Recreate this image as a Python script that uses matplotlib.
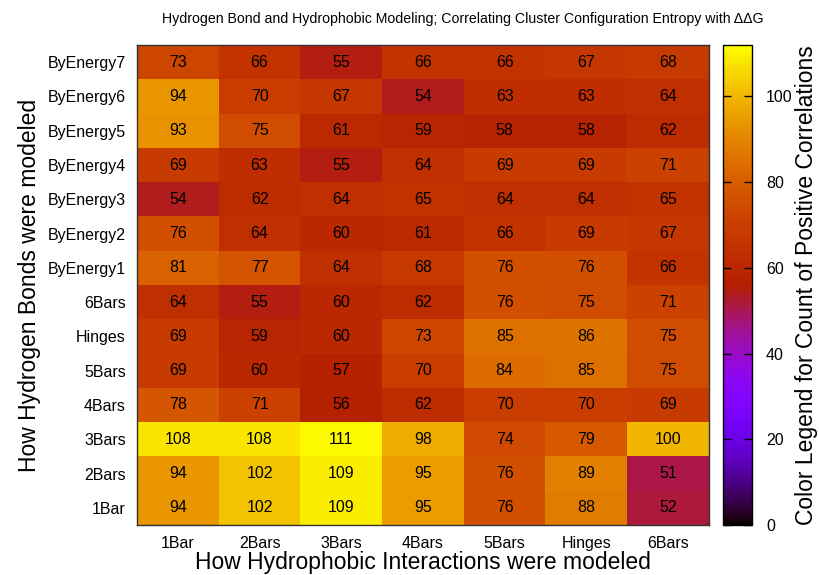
import matplotlib
matplotlib.use("Agg")
import matplotlib.pyplot as plt
import numpy as np

plt.rcParams['font.family'] = ['Liberation Sans', 'DejaVu Sans']

x_labels = ["1Bar", "2Bars", "3Bars", "4Bars", "5Bars", "Hinges", "6Bars"]
y_labels = ["ByEnergy7", "ByEnergy6", "ByEnergy5", "ByEnergy4", "ByEnergy3",
            "ByEnergy2", "ByEnergy1", "6Bars", "Hinges", "5Bars", "4Bars",
            "3Bars", "2Bars", "1Bar"]
values = [
    [73, 66, 55, 66, 66, 67, 68],
    [94, 70, 67, 54, 63, 63, 64],
    [93, 75, 61, 59, 58, 58, 62],
    [69, 63, 55, 64, 69, 69, 71],
    [54, 62, 64, 65, 64, 64, 65],
    [76, 64, 60, 61, 66, 69, 67],
    [81, 77, 64, 68, 76, 76, 66],
    [64, 55, 60, 62, 76, 75, 71],
    [69, 59, 60, 73, 85, 86, 75],
    [69, 60, 57, 70, 84, 85, 75],
    [78, 71, 56, 62, 70, 70, 69],
    [108, 108, 111, 98, 74, 79, 100],
    [94, 102, 109, 95, 76, 89, 51],
    [94, 102, 109, 95, 76, 88, 52],
]
cb_ticks = [0, 20, 40, 60, 80, 100]
vmin, vmax = 0, 112

W, H = 820, 575
fig = plt.figure(figsize=(W / 100, H / 100), dpi=100)
ax = fig.add_axes([137 / W, (H - 525) / H, (709 - 137) / W, (525 - 45) / H])
cax = fig.add_axes([723 / W, (H - 525) / H, (752 - 723) / W, (525 - 45) / H])

data = np.array(values)
im = ax.imshow(data, cmap='gnuplot', vmin=vmin, vmax=vmax, aspect='auto',
               interpolation='nearest')
for i in range(data.shape[0]):
    for j in range(data.shape[1]):
        ax.text(j, i, str(data[i, j]), ha='center', va='center',
                fontsize=11.5, color='black')

ax.set_xticks(range(len(x_labels)))
ax.set_xticklabels(x_labels, fontsize=11.5)
ax.set_yticks(range(len(y_labels)))
ax.set_yticklabels(y_labels, fontsize=11.5)
ax.tick_params(length=0, pad=8)
ax.set_xlabel("How Hydrophobic Interactions were modeled", fontsize=16.5, labelpad=0)
ax.set_ylabel("How Hydrogen Bonds were modeled", fontsize=16.5, labelpad=5)
for s in ax.spines.values():
    s.set_linewidth(1.0)
    s.set_color('#333333')

cb = fig.colorbar(im, cax=cax)
cb.set_ticks(cb_ticks)
cax.tick_params(direction='in', length=6, width=1, left=True, right=True,
                labelsize=11.5, pad=10)
cb.outline.set_linewidth(1.0)
cb.set_label("Color Legend for Count of Positive Correlations", fontsize=16.5,
             labelpad=2)

fig.suptitle("Hydrogen Bond and Hydrophobic Modeling; Correlating Cluster Configuration Entropy with \u0394\u0394G",
             fontsize=10.2, x=463 / W, y=1 - 19 / H, va='center')

fig.savefig("out.png", dpi=100)
